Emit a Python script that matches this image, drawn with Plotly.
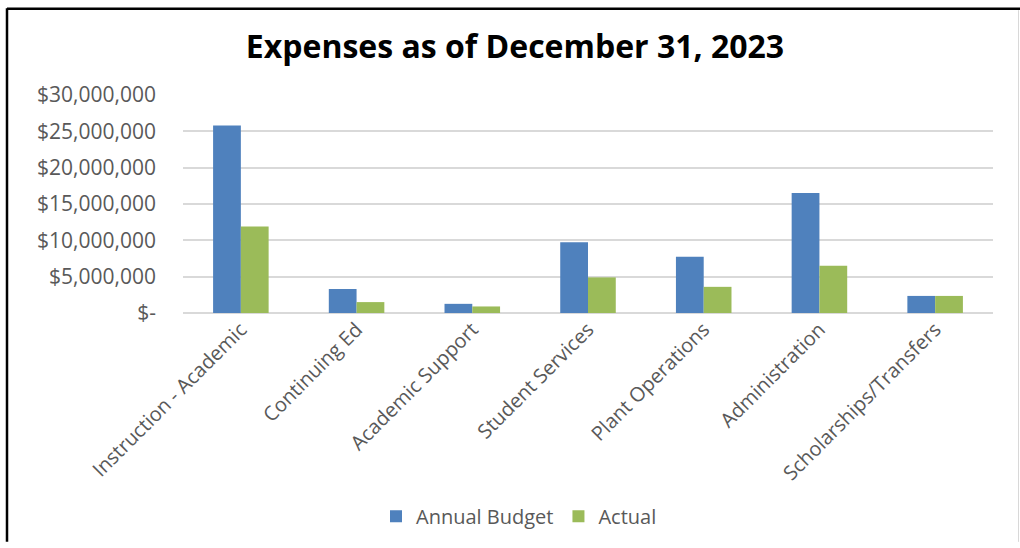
import plotly.graph_objects as go

# Expense categories and amounts (USD)
categories = [
    "Instruction - Academic",
    "Continuing Ed",
    "Academic Support",
    "Student Services",
    "Plant Operations",
    "Administration",
    "Scholarships/Transfers",
]
annual_budget = [25800000, 3300000, 1260000, 9750000, 7750000, 16500000, 2350000]
actual = [11900000, 1500000, 900000, 4900000, 3600000, 6500000, 2350000]

tick_values = [0, 5000000, 10000000, 15000000, 20000000, 25000000, 30000000]
tick_labels = ["$-", "$5,000,000", "$10,000,000", "$15,000,000",
               "$20,000,000", "$25,000,000", "$30,000,000"]

W, H = 1020, 548
ML, MR, MT, MB = 183, 27, 95, 232
PW, PH = W - ML - MR, H - MT - MB


def px_x(px):
    return (px - ML) / PW


def px_y(py):
    return (H - MB - py) / PH


fig = go.Figure()
fig.add_trace(go.Bar(name="Annual Budget", x=categories, y=annual_budget,
                     marker=dict(color="#4F81BD", line=dict(width=0))))
fig.add_trace(go.Bar(name="Actual", x=categories, y=actual,
                     marker=dict(color="#9BBB59", line=dict(width=0))))

font_family = "Open Sans"
gray = "#595959"

fig.update_layout(
    width=W, height=H, autosize=False,
    margin=dict(l=ML, r=MR, t=MT, b=MB),
    paper_bgcolor="white", plot_bgcolor="white",
    barmode="group", bargap=0.52, bargroupgap=0,
    title=dict(text="<b>Expenses as of December 31, 2023</b>",
               x=515 / W, xanchor="center", xref="container",
               y=1 - 47 / H, yanchor="middle", yref="container",
               font=dict(family=font_family, size=32, color="#000000")),
    font=dict(family=font_family, color=gray),
    showlegend=True,
    legend=dict(orientation="h", x=px_x(519), xanchor="center",
                y=px_y(522), yanchor="middle",
                font=dict(family=font_family, size=20, color=gray),
                itemwidth=30, traceorder="normal"),
    xaxis=dict(tickangle=-45, tickfont=dict(size=20, color=gray),
               showgrid=False, showline=False, ticks=""),
    yaxis=dict(range=[0, 30000000], tickvals=tick_values, ticktext=tick_labels,
               tickfont=dict(size=21, color=gray), ticklabelstandoff=26,
               showgrid=True, gridcolor="#d9d9d9", gridwidth=2,
               zeroline=True, zerolinecolor="#d9d9d9", zerolinewidth=2,
               showline=False, ticks="", ticklen=0),
    shapes=[
        # outer frame
        dict(type="line", xref="paper", yref="paper",
             x0=px_x(7), x1=px_x(1020), y0=px_y(7.5), y1=px_y(7.5),
             line=dict(color="#000000", width=2.5)),
        dict(type="line", xref="paper", yref="paper",
             x0=px_x(7), x1=px_x(7), y0=px_y(7), y1=px_y(548),
             line=dict(color="#000000", width=2.5)),
        dict(type="line", xref="paper", yref="paper",
             x0=px_x(1018.5), x1=px_x(1018.5), y0=px_y(9), y1=px_y(548),
             line=dict(color="#d8d8d8", width=1)),
    ],
)

fig.write_html("out.html")
